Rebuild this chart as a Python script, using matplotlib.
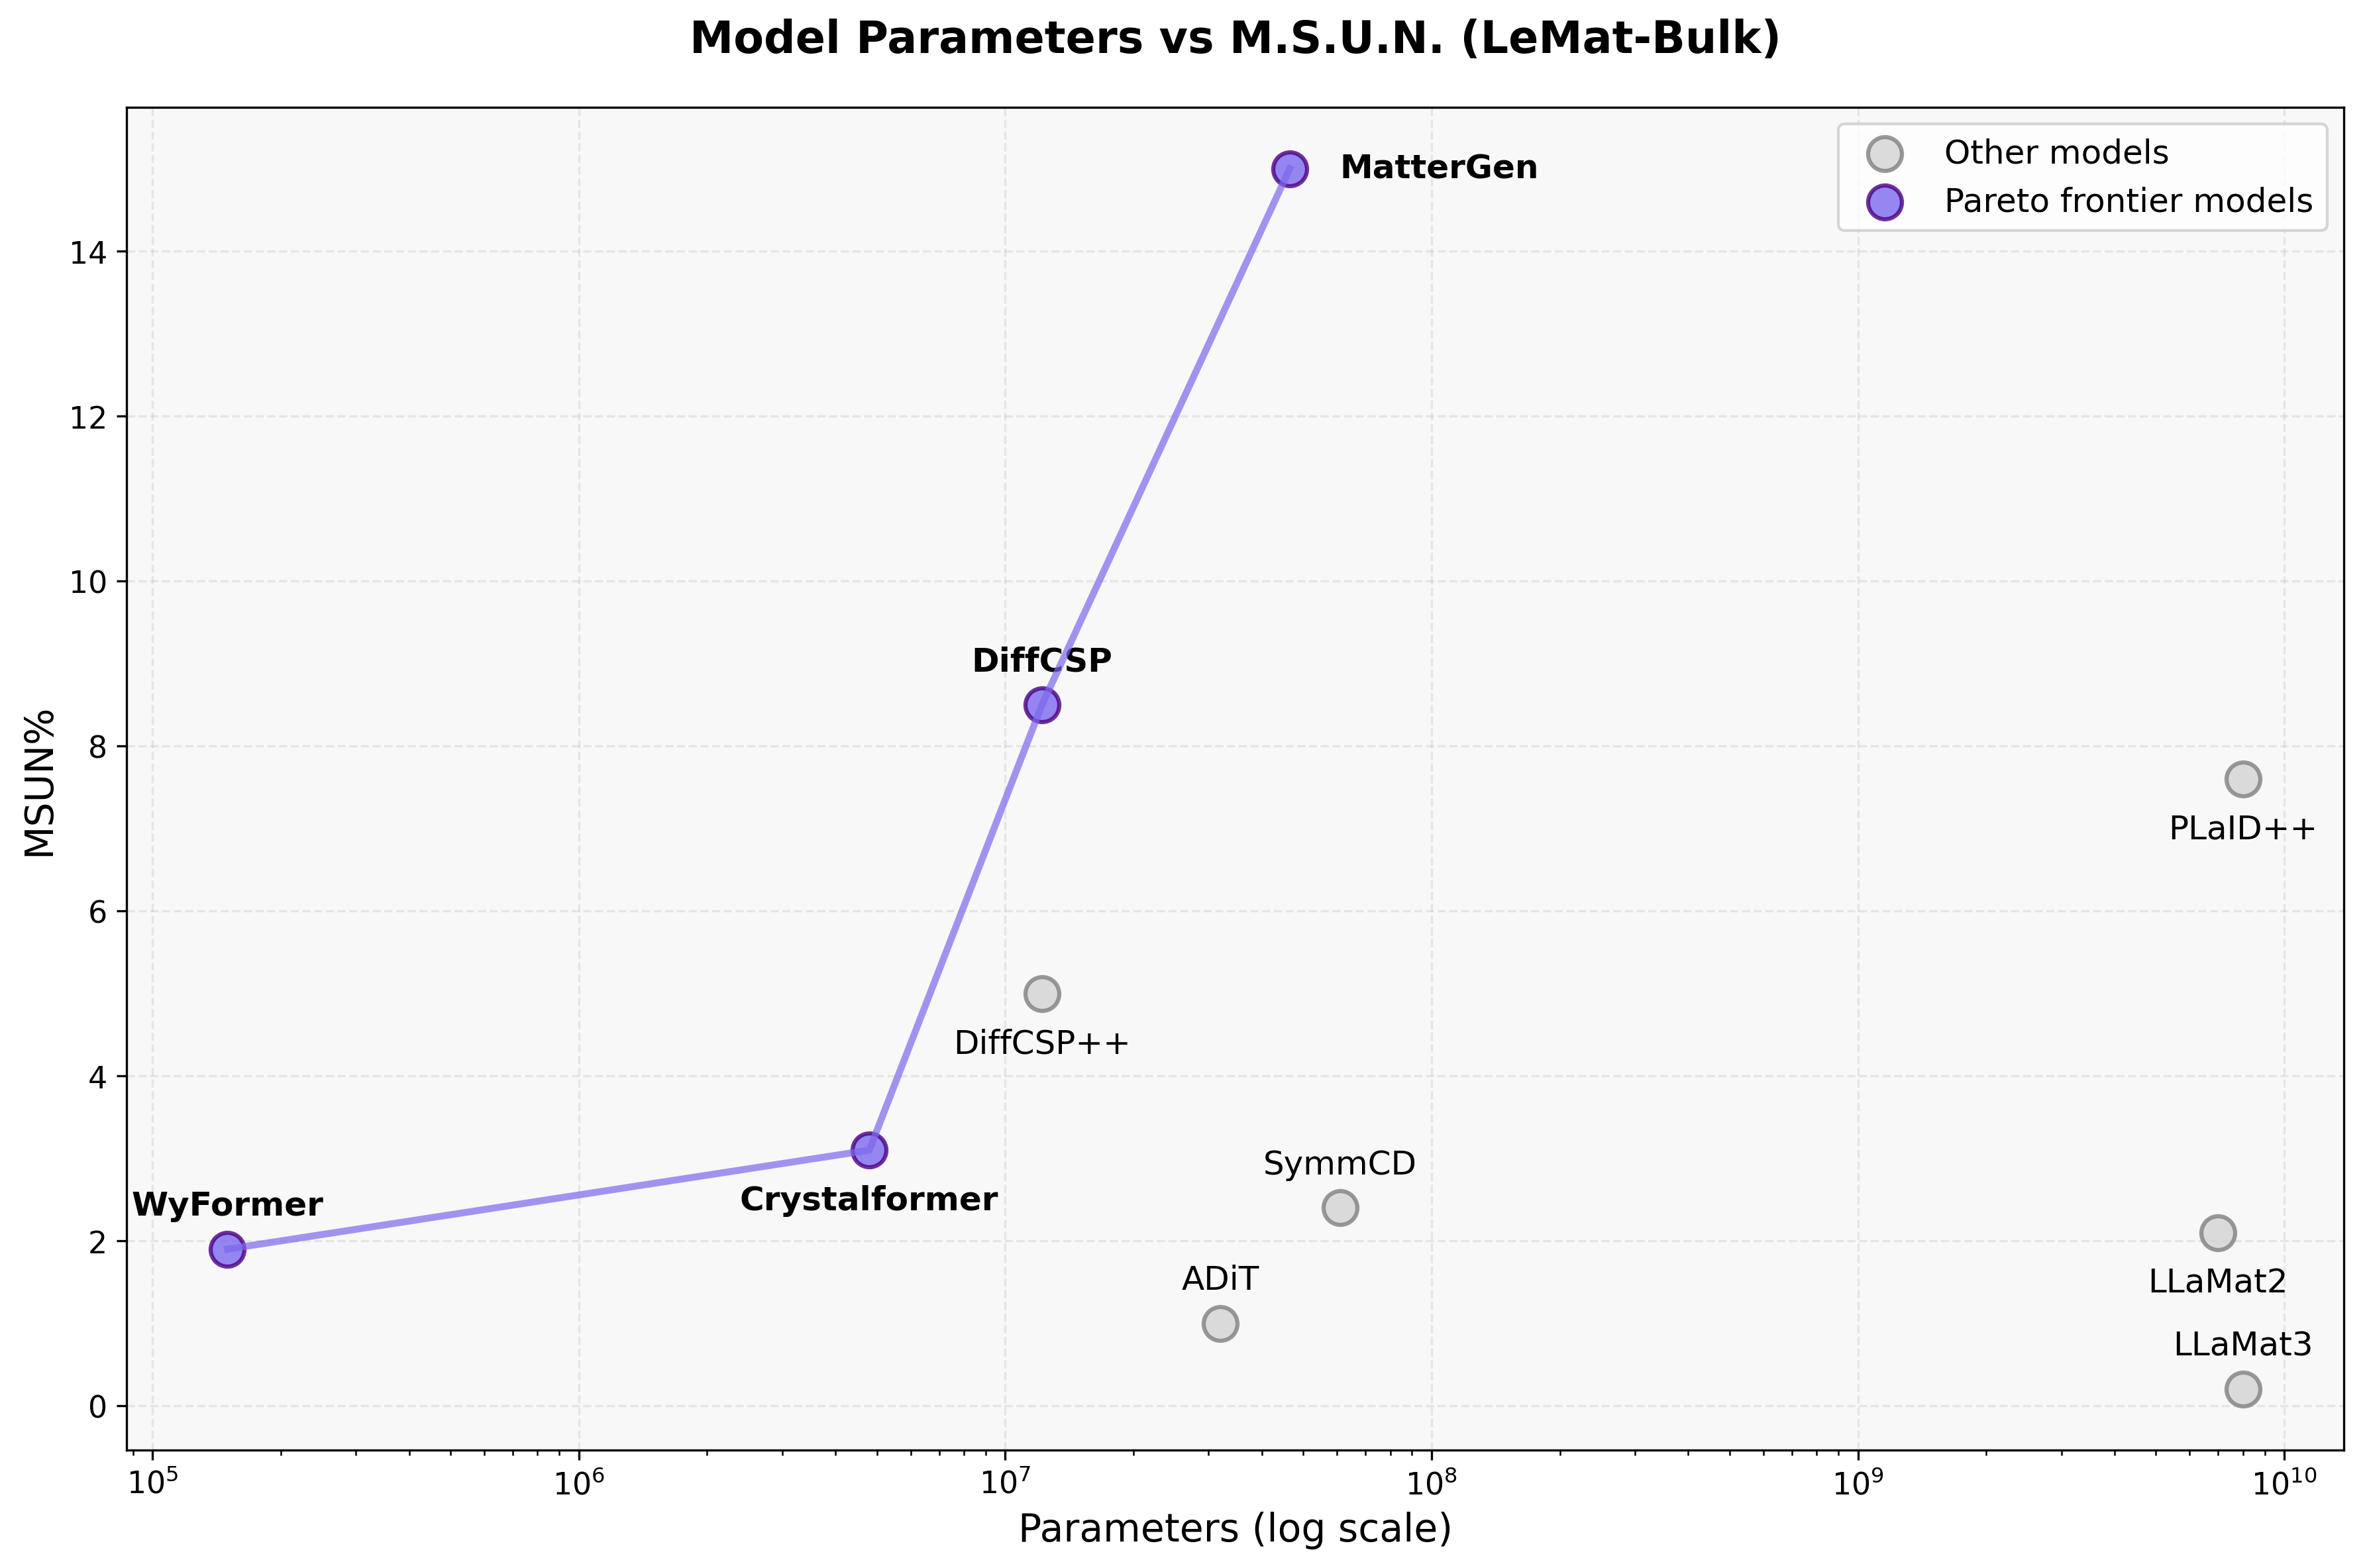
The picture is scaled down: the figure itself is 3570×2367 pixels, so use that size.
import numpy as np
import matplotlib
matplotlib.use('Agg')
import matplotlib.pyplot as plt

# model data
models = ['WyFormer', 'Crystalformer', 'DiffCSP', 'MatterGen',
          'DiffCSP++', 'SymmCD', 'ADiT', 'PLaID++', 'LLaMat2', 'LLaMat3']
params = [1.5e5, 4.8e6, 1.22e7, 4.65e7,
          1.22e7, 6.1e7, 3.2e7, 8.0e9, 7.0e9, 8.0e9]
msun = [1.9, 3.1, 8.5, 15.0,
        5.0, 2.4, 1.0, 7.6, 2.1, 0.2]
pareto = [True, True, True, True,
          False, False, False, False, False, False]
# where the label goes relative to the point
label_pos = ['above', 'below', 'above', 'right',
             'below', 'above', 'above', 'below', 'below', 'above']

params = np.array(params)
msun = np.array(msun)
pareto = np.array(pareto)

fig, ax = plt.subplots(figsize=(11.9, 7.893), dpi=300)
ax.set_facecolor('#f8f8f8')

ax.scatter(params[~pareto], msun[~pareto], s=150, c='lightgray',
           edgecolors='gray', linewidths=1.5, alpha=0.8, zorder=3,
           label='Other models')
ax.scatter(params[pareto], msun[pareto], s=150, c='mediumslateblue',
           edgecolors='indigo', linewidths=1.5, alpha=0.8, zorder=4,
           label='Pareto frontier models')

order = np.argsort(params[pareto])
ax.plot(params[pareto][order], msun[pareto][order], color='mediumslateblue',
        linewidth=2.5, alpha=0.7, zorder=5)

for i, name in enumerate(models):
    weight = 'bold' if pareto[i] else 'normal'
    if label_pos[i] == 'above':
        off, ha, va = (0, 10), 'center', 'bottom'
    elif label_pos[i] == 'below':
        off, ha, va = (0, -12.5), 'center', 'top'
    else:
        off, ha, va = (18, 0), 'left', 'center'
    ax.annotate(name, (params[i], msun[i]), xytext=off,
                textcoords='offset points', ha=ha, va=va,
                fontsize=12, fontweight=weight)

ax.set_xscale('log')
ax.set_xlabel('Parameters (log scale)', fontsize=14)
ax.set_ylabel('MSUN%', fontsize=14)
ax.set_title('Model Parameters vs M.S.U.N. (LeMat-Bulk)', fontsize=16,
             fontweight='bold', pad=20)
ax.tick_params(labelsize=11)
ax.grid(True, which='major', linestyle='--', alpha=0.25)
ax.legend(loc='upper right', fontsize=12)

plt.subplots_adjust(left=0.0536, right=0.991, top=0.931, bottom=0.075)
fig.savefig('out.png', dpi=300)
